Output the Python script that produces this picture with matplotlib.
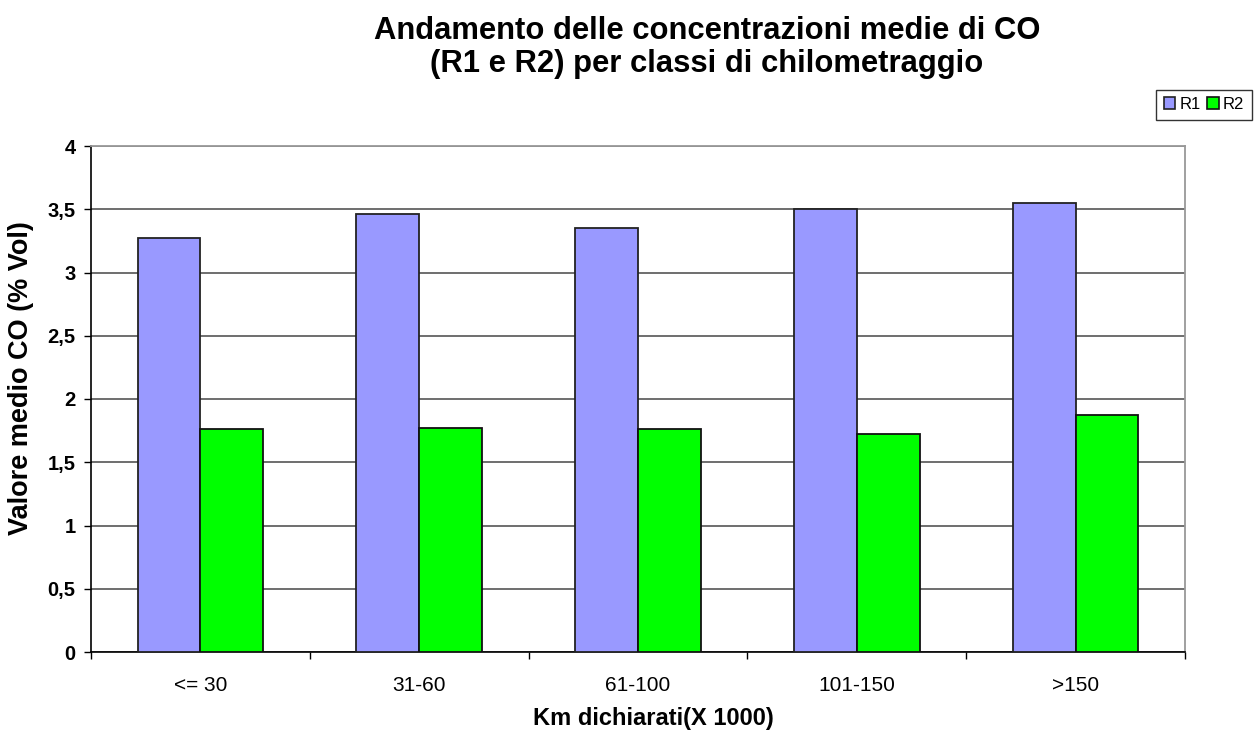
import matplotlib
matplotlib.use("Agg")
import matplotlib.pyplot as plt
import numpy as np
from matplotlib.patches import Patch

plt.rcParams['font.family'] = ['Liberation Sans', 'DejaVu Sans']

categories = ["<= 30", "31-60", "61-100", "101-150", ">150"]
r1_values = [3.27, 3.46, 3.35, 3.50, 3.55]
r2_values = [1.76, 1.77, 1.76, 1.72, 1.87]
series_names = ["R1", "R2"]
y_ticks = [0, 0.5, 1, 1.5, 2, 2.5, 3, 3.5, 4]
y_tick_labels = ["0", "0,5", "1", "1,5", "2", "2,5", "3", "3,5", "4"]

W, H = 1256, 733
fig = plt.figure(figsize=(W / 100, H / 100), dpi=100)
ax = fig.add_axes([91 / W, 1 - 652 / H, (1185 - 91) / W, (652 - 146) / H])

c_r1 = "#9999FF"
c_r2 = "#00FF00"
x = np.arange(len(categories))
bw = 0.287
ax.bar(x - bw / 2, r1_values, bw, color=c_r1, edgecolor="#222222", linewidth=1.3, zorder=3)
ax.bar(x + bw / 2, r2_values, bw, color=c_r2, edgecolor="#111111", linewidth=1.3, zorder=3)

ax.set_xlim(-0.5, len(categories) - 0.5)
ax.set_ylim(0, 4)
ax.set_yticks(y_ticks)
ax.set_yticklabels(y_tick_labels, fontsize=14.5, fontweight="bold")
ax.set_xticks(np.arange(-0.5, len(categories), 1.0))
ax.set_xticklabels([])
ax.set_xticks(x, minor=True)
ax.set_xticklabels(categories, minor=True, fontsize=15)
ax.tick_params(axis="x", which="minor", length=0, pad=17)
ax.tick_params(axis="x", which="major", length=5, width=1, direction="out")
ax.tick_params(axis="y", length=5, width=1, direction="out", pad=6)

ax.yaxis.grid(True, color="#555555", linewidth=1.2, zorder=0)
ax.set_axisbelow(True)
for s in ("top", "right"):
    ax.spines[s].set_color("#999999")
    ax.spines[s].set_linewidth(1.3)
for s in ("left", "bottom"):
    ax.spines[s].set_color("#000000")
    ax.spines[s].set_linewidth(1.2)

# axis titles placed in figure pixels
fig.text(21 / W, 1 - 378 / H, "Valore medio CO (% Vol)", rotation=90,
         ha="center", va="center", fontsize=19.5, fontweight="bold")
fig.text(653 / W, 1 - 718 / H, "Km dichiarati(X 1000)",
         ha="center", va="center", fontsize=17, fontweight="bold")

fig.text(707 / W, 1 - 31 / H, "Andamento delle concentrazioni medie di CO",
         ha="center", va="center", fontsize=22.3, fontweight="bold")
fig.text(707 / W, 1 - 64 / H, "(R1 e R2) per classi di chilometraggio",
         ha="center", va="center", fontsize=22.3, fontweight="bold")

handles = [Patch(facecolor=c_r1, edgecolor="#222222", linewidth=1.2),
           Patch(facecolor=c_r2, edgecolor="#111111", linewidth=1.2)]
leg = fig.legend(handles, series_names, loc="center", bbox_to_anchor=(1204 / W, 1 - 104.5 / H),
                 ncol=2, fontsize=12, frameon=True, fancybox=False, handlelength=0.7,
                 handleheight=0.7, handletextpad=0.25, columnspacing=0.4, borderpad=0.45,
                 borderaxespad=0)
leg.get_frame().set_edgecolor("#000000")
leg.get_frame().set_linewidth(1.0)

fig.savefig("out.png", dpi=100, facecolor="white")
